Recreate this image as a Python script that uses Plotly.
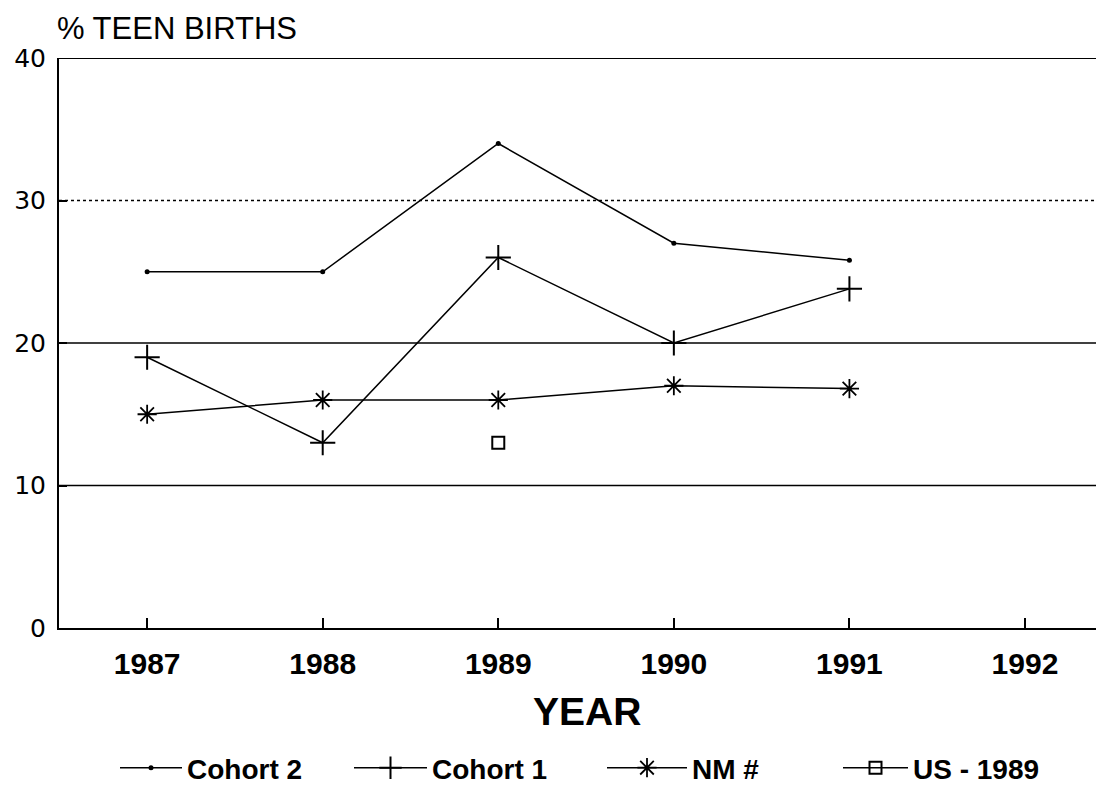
import plotly.graph_objects as go

years = [1987, 1988, 1989, 1990, 1991]
cohort2 = [25, 25, 34, 27, 25.8]
cohort1 = [19, 13, 26, 20, 23.8]
nm = [15, 16, 16, 17, 16.8]
us_year = [1989]
us_1989 = [13]
tick_years = [1987, 1988, 1989, 1990, 1991, 1992]
y_ticks = [0, 10, 20, 30, 40]

FONT = "Liberation Sans, Arial, sans-serif"
WIDE = "DejaVu Sans, sans-serif"
fig = go.Figure()
line = dict(color="black", width=1.5)
fig.add_trace(go.Scatter(x=years, y=cohort2, name="Cohort 2", mode="lines+markers", legend="legend",
                         line=line, marker=dict(symbol="circle", size=5, color="black")))
fig.add_trace(go.Scatter(x=years, y=cohort1, name="Cohort 1", mode="lines+markers", legend="legend2",
                         line=line, marker=dict(symbol="cross-thin", size=18, color="black",
                                                line=dict(color="black", width=2))))
fig.add_trace(go.Scatter(x=years, y=nm, name="NM #", mode="lines+markers", legend="legend3",
                         line=line, marker=dict(symbol="asterisk", size=16, color="black",
                                                line=dict(color="black", width=1.8))))
fig.add_trace(go.Scatter(x=us_year, y=us_1989, name="US - 1989", mode="lines+markers", legend="legend4",
                         line=line, marker=dict(symbol="square-open", size=12, color="black",
                                                line=dict(color="black", width=2))))

for yv, dash in [(10, "solid"), (20, "solid"), (30, "dot"), (40, "solid")]:
    fig.add_shape(type="line", xref="paper", x0=0, x1=1, yref="y", y0=yv, y1=yv,
                  line=dict(color="black", width=1.3 if yv != 40 else 2, dash=dash), layer="below")

fig.update_xaxes(range=[1986.498, 1992.45], tickvals=tick_years, ticktext=[str(t) for t in tick_years],
                 showgrid=False, zeroline=False, showline=True, linecolor="black", linewidth=2,
                 ticks="inside", ticklen=10, tickwidth=2, tickcolor="black",
                 tickfont=dict(family=FONT, size=30, color="black", weight="bold"),
                 ticklabelstandoff=8)
fig.update_yaxes(range=[0, 40], tickvals=y_ticks, showgrid=False, zeroline=False,
                 showline=True, linecolor="black", linewidth=2,
                 ticks="inside", ticklen=8, tickwidth=1.5, tickcolor="black",
                 tickfont=dict(family=WIDE, size=25, color="black"), ticklabelstandoff=6)

fig.add_annotation(text="% TEEN BIRTHS", xref="paper", yref="paper", x=-0.004, y=1.0526,
                   xanchor="left", yanchor="middle", showarrow=False,
                   font=dict(family=FONT, size=31, color="black"))
fig.add_annotation(text="<b>YEAR</b>", xref="paper", yref="paper", x=(587 - 59) / 1045, y=-0.147,
                   xanchor="center", yanchor="middle", showarrow=False,
                   font=dict(family=FONT, size=39, color="black"))

PLOT_L, PLOT_W = 59, 1045
def lx(px):
    return (px - PLOT_L) / PLOT_W

def leg(px, iw):
    return dict(orientation="h", x=lx(px), y=-0.2456, xanchor="left", yanchor="middle",
                font=dict(family=FONT, size=28, color="black", weight="bold"),
                itemwidth=iw, bgcolor="rgba(0,0,0,0)")

fig.update_layout(width=1096, height=787, margin=dict(l=51, r=0, t=50, b=167, autoexpand=False),
                  paper_bgcolor="white", plot_bgcolor="white", showlegend=True,
                  legend=leg(115, 62), legend2=leg(349, 73),
                  legend3=leg(602, 80), legend4=leg(838, 65))
fig.write_html("out.html")
